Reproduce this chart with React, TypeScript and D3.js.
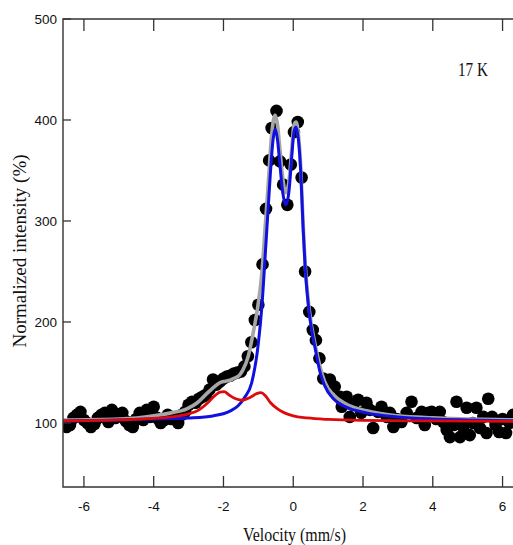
import React from 'react';
import * as d3 from 'd3';

// measured points (velocity in mm/s, normalized intensity in %)
const velocity = [
  -6.5, -6.4, -6.3, -6.2, -6.1, -6.0, -5.9, -5.8, -5.7, -5.6, -5.5, -5.4, -5.3, -5.2, -5.1, -5.0,
  -4.9, -4.8, -4.7, -4.6, -4.5, -4.4, -4.3, -4.2, -4.1, -4.0, -3.9, -3.8, -3.7, -3.6, -3.5, -3.4,
  -3.3, -3.2, -3.1, -3.0, -2.9, -2.8, -2.7, -2.6, -2.5, -2.4, -2.3, -2.2, -2.1, -2.0, -1.9, -1.8,
  -1.7, -1.6, -1.5, -1.4, -1.3, -1.2, -1.1, -1.0, -0.88, -0.78, -0.69, -0.62, -0.48, -0.38, -0.29,
  -0.17, -0.07, 0.02, 0.13, 0.24, 0.34, 0.46, 0.56, 0.65, 0.75, 0.86, 1.05, 1.19, 1.34, 1.39, 1.53,
  1.62, 1.72, 1.86, 1.95, 2.1, 2.2, 2.29, 2.43, 2.53, 2.68, 2.77, 2.87, 2.97, 3.1, 3.25, 3.39, 3.54,
  3.68, 3.77, 3.87, 3.97, 4.1, 4.2, 4.3, 4.4, 4.49, 4.6, 4.68, 4.78, 4.87, 4.97, 5.06, 5.15, 5.25,
  5.35, 5.45, 5.54, 5.59, 5.7, 5.8, 5.9, 6.0, 6.1, 6.2, 6.3, 6.4,
];
const intensity = [
  96, 98, 105, 108, 111, 103, 100, 96, 99, 105, 108, 110, 101, 113, 105, 108,
  110, 102, 98, 96, 104, 110, 103, 113, 106, 116, 105, 100, 103, 108, 104, 105,
  100, 108, 111, 118, 121, 120, 124, 126, 128, 133, 143, 138, 141, 144, 146, 147,
  149, 150, 151, 156, 166, 180, 202, 217, 257, 312, 360, 392, 409, 359, 336,
  316, 356, 388, 398, 343, 250, 210, 192, 182, 164, 144, 143, 136, 126, 116, 126,
  106, 118, 123, 110, 120, 113, 95, 111, 116, 106, 110, 96, 104, 101, 110, 121, 105,
  111, 98, 110, 111, 104, 111, 101, 93, 86, 98, 121, 86, 96, 115, 88, 100, 115,
  95, 106, 90, 124, 106, 98, 91, 104, 90, 100, 108, 105,
];

// fitted curves: [velocity, intensity]
const blueFit: [number, number][] = [
  [-6.6, 102], [-5, 103], [-4, 104], [-3, 105], [-2.3, 107], [-1.8, 112], [-1.58, 117], [-1.4, 125],
  [-1.19, 140], [-1.0, 179], [-0.9, 215], [-0.8, 268], [-0.72, 312], [-0.65, 350], [-0.58, 380],
  [-0.52, 391], [-0.45, 380], [-0.38, 355], [-0.3, 328], [-0.21, 316], [-0.12, 330], [-0.04, 365],
  [0.02, 388], [0.08, 393], [0.15, 380], [0.22, 345], [0.28, 295], [0.34, 255], [0.4, 228],
  [0.46, 208], [0.55, 188], [0.65, 170], [0.77, 150], [0.9, 137], [1.15, 124], [1.5, 116],
  [2.1, 110], [3, 106], [4, 104], [5, 103], [6.5, 102],
];
const redFit: [number, number][] = [
  [-6.6, 102], [-5, 103], [-4, 104.5], [-3.5, 106], [-3, 109], [-2.7, 113], [-2.45, 120],
  [-2.25, 127], [-2.1, 130.5], [-1.98, 131], [-1.85, 128], [-1.65, 124], [-1.45, 122.5],
  [-1.25, 125], [-1.05, 129], [-0.92, 130], [-0.8, 127], [-0.65, 120], [-0.45, 114], [-0.25, 110],
  [0, 107], [0.4, 105], [1, 103.5], [2, 102.5], [4, 102], [6.5, 101.5],
];
const grayFit: [number, number][] = [
  [-6.6, 103], [-5, 104], [-4.5, 105], [-4, 107], [-3.5, 110], [-3.05, 114], [-2.75, 120],
  [-2.48, 129], [-2.29, 135], [-2.1, 140], [-2.0, 141], [-1.85, 142], [-1.72, 144], [-1.55, 147],
  [-1.45, 152], [-1.29, 166], [-1.15, 189], [-1.03, 212], [-0.9, 248], [-0.8, 296], [-0.72, 335],
  [-0.62, 385], [-0.52, 405], [-0.45, 395], [-0.38, 370], [-0.3, 342], [-0.21, 328], [-0.12, 340],
  [-0.04, 372], [0.02, 395], [0.08, 398], [0.15, 385], [0.22, 350], [0.28, 299], [0.34, 258],
  [0.46, 212], [0.65, 174], [0.9, 141], [1.15, 128], [1.5, 119], [2.1, 112], [3, 107], [4, 105],
  [5, 104], [6.5, 103],
];

const xTicks = [-6, -4, -2, 0, 2, 4, 6];
const yTicks = [100, 200, 300, 400, 500];

const W = 513;
const H = 545;
const left = 63;
const right = 520; // plot box runs past the visible edge
const top = 19;
const bottom = 487;

export default function App() {
  const x = d3.scaleLinear().domain([-6.6, 6.5]).range([left, right]);
  const y = d3.scaleLinear().domain([36.6, 500]).range([bottom, top]);

  const line = d3
    .line<[number, number]>()
    .x(d => x(d[0]))
    .y(d => y(d[1]))
    .curve(d3.curveMonotoneX);

  const axisColor = '#333';
  const sans = 'Liberation Sans, Arial, sans-serif';
  const serif = 'Liberation Serif, Times New Roman, serif';

  return (
    <svg
      width={W}
      height={H}
      style={{ position: 'absolute', left: 0, top: 0, background: '#fff' }}
    >
      <defs>
        <clipPath id="plot">
          <rect x={left} y={top} width={right - left} height={bottom - top} />
        </clipPath>
      </defs>

      <g clipPath="url(#plot)">
        {velocity.map((v, i) => (
          <circle key={i} cx={x(v)} cy={y(intensity[i])} r={6.3} fill="#000" />
        ))}
        <path d={line(grayFit) || ''} fill="none" stroke="#a6a6a6" strokeWidth={3.6} />
        <path d={line(blueFit) || ''} fill="none" stroke="#1010e0" strokeWidth={3} />
        <path d={line(redFit) || ''} fill="none" stroke="#dc0a0a" strokeWidth={2.8} />
      </g>

      {/* frame */}
      <path
        d={`M${right},${top}H${left}V${bottom}H${right}`}
        fill="none"
        stroke={axisColor}
        strokeWidth={1.4}
      />

      {xTicks.map(t => (
        <g key={t}>
          <line x1={x(t)} x2={x(t)} y1={bottom} y2={bottom - 11} stroke={axisColor} strokeWidth={1.3} />
          <line x1={x(t)} x2={x(t)} y1={top} y2={top + 12} stroke={axisColor} strokeWidth={1.3} />
          <text
            x={x(t)}
            y={bottom + 24}
            textAnchor="middle"
            fontFamily={sans}
            fontSize={13.5}
            fill="#111"
          >
            {t}
          </text>
        </g>
      ))}

      {yTicks.map(t => (
        <g key={t}>
          <line x1={left} x2={left + 8} y1={y(t)} y2={y(t)} stroke={axisColor} strokeWidth={1.3} />
          <text
            x={left - 6}
            y={y(t)}
            dy="0.35em"
            textAnchor="end"
            fontFamily={sans}
            fontSize={13.5}
            fill="#111"
          >
            {t}
          </text>
        </g>
      ))}

      <text
        x={458}
        y={76}
        fontFamily={serif}
        fontSize={18}
        textLength={30}
        lengthAdjust="spacingAndGlyphs"
        fill="#111"
      >
        17 K
      </text>

      <text
        x={243}
        y={541}
        fontFamily={serif}
        fontSize={18.5}
        textLength={103}
        lengthAdjust="spacingAndGlyphs"
        fill="#111"
      >
        Velocity (mm/s)
      </text>

      <text
        transform={`translate(26, 251) rotate(-90)`}
        textAnchor="middle"
        fontFamily={serif}
        fontSize={19}
        fill="#111"
      >
        Normalized intensity (%)
      </text>
    </svg>
  );
}
